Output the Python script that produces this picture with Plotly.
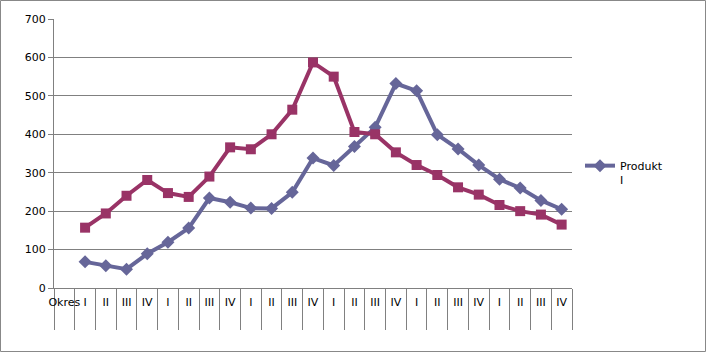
import plotly.graph_objects as go

categories = ["Okres", "I", "II", "III", "IV", "I", "II", "III", "IV", "I", "II", "III", "IV",
              "I", "II", "III", "IV", "I", "II", "III", "IV", "I", "II", "III", "IV"]
produkt_i = [68, 58, 49, 89, 119, 156, 234, 223, 208, 207, 249, 338, 319, 368, 418, 532,
             513, 399, 362, 320, 283, 260, 228, 205]
produkt_ii = [157, 194, 240, 281, 247, 237, 290, 366, 361, 400, 464, 587, 550, 406, 400, 353,
              320, 294, 262, 243, 216, 200, 191, 165]
y_ticks = [0, 100, 200, 300, 400, 500, 600, 700]

n = len(categories)
xs = list(range(1, n))
FONT = "DejaVu Sans"

fig = go.Figure()
fig.add_trace(go.Scatter(
    x=xs, y=produkt_i, mode="lines+markers", name="Produkt<br>I",
    line=dict(color="#666699", width=4),
    marker=dict(symbol="diamond", size=10, color="#666699"),
))
fig.add_trace(go.Scatter(
    x=xs, y=produkt_ii, mode="lines+markers", name="Produkt II", showlegend=False,
    line=dict(color="#993366", width=4),
    marker=dict(symbol="square", size=10, color="#993366"),
))

L, R, T, B = 54, 134, 19, 64
W, H = 706, 352
pw, ph = W - L - R, H - T - B

fig.update_layout(
    width=W, height=H,
    margin=dict(l=L, r=R, t=T, b=B, pad=0),
    paper_bgcolor="white", plot_bgcolor="white",
    font=dict(family=FONT, size=11, color="#000000"),
    showlegend=True,
    legend=dict(x=(W - R + 8 - L) / pw, y=(T + ph - 173) / ph, xanchor="left", yanchor="middle",
                valign="top", font=dict(size=11, family=FONT), bgcolor="rgba(0,0,0,0)",
                itemwidth=30, tracegroupgap=0),
    shapes=[dict(type="rect", xref="paper", yref="paper",
                 x0=(0.5 - L) / pw, x1=(W - 0.5 - L) / pw,
                 y0=-(H - 0.5 - T - ph) / ph, y1=(ph + T - 0.5) / ph,
                 line=dict(color="#888888", width=1), layer="below")],
)
fig.update_xaxes(
    range=[-0.5, n - 0.5], tickmode="array", tickvals=list(range(n)), ticktext=categories,
    ticks="", showgrid=False, zeroline=False,
    showline=True, linecolor="#808080", linewidth=1,
    minor=dict(tickmode="array", tickvals=[i - 0.5 for i in range(n + 1)],
               ticks="outside", ticklen=41, tickcolor="#808080", tickwidth=1, showgrid=False),
    tickfont=dict(size=11, family=FONT), ticklabelstandoff=4,
)
fig.update_yaxes(
    range=[0, 700], tickmode="array", tickvals=y_ticks,
    ticks="outside", ticklen=5, tickcolor="#808080",
    showgrid=True, gridcolor="#808080", gridwidth=1, zeroline=False,
    showline=True, linecolor="#808080", linewidth=1,
    tickfont=dict(size=11, family=FONT),
)

fig.write_html("out.html")
